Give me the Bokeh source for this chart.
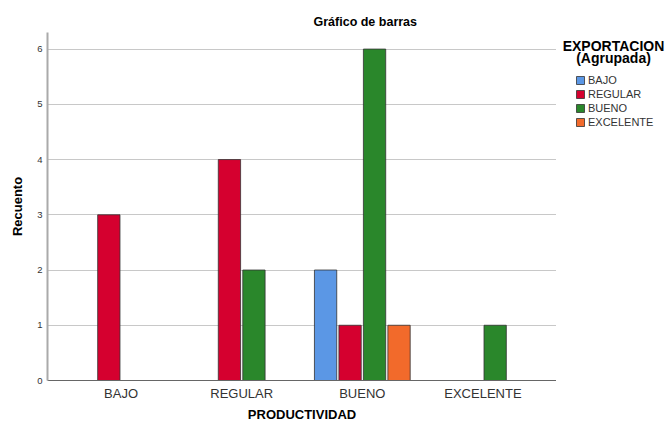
from bokeh.plotting import figure
from bokeh.layouts import row
from bokeh.models import (ColumnDataSource, FactorRange, Legend, LegendItem, Label,
                          SingleIntervalTicker, Range1d)
from bokeh.transform import dodge
from bokeh.embed import file_html
from bokeh.resources import INLINE

categories = ["BAJO", "REGULAR", "BUENO", "EXCELENTE"]
series = ["BAJO", "REGULAR", "BUENO", "EXCELENTE"]
bajo = [0, 0, 2, 0]
regular = [3, 4, 1, 0]
bueno = [0, 2, 6, 1]
excelente = [0, 0, 1, 0]
colors = ["#5B97E5", "#D5002F", "#2A872B", "#F26A2B"]
legend_title = ["EXPORTACION", "(Agrupada)"]

source = ColumnDataSource(dict(cat=categories, BAJO=bajo, REGULAR=regular,
                               BUENO=bueno, EXCELENTE=excelente))

FONT = "Liberation Sans"
H = 424
TOP = 32
BOTTOM = 43

p = figure(x_range=FactorRange(factors=categories, range_padding=0.055),
           y_range=(0, 6.3), width=556, height=H,
           output_backend="svg", toolbar_location=None,
           min_border_left=47, min_border_right=0, min_border_top=TOP,
           min_border_bottom=BOTTOM)
p.outline_line_color = None

offsets = [-0.3045, -0.1015, 0.1015, 0.3045]
for s, c, off in zip(series, colors, offsets):
    p.vbar(x=dodge("cat", off, range=p.x_range), top=s, width=0.185,
           source=source, fill_color=c, line_color="#333333", line_width=1,
           line_alpha=0.8)

p.xgrid.grid_line_color = None
p.ygrid.grid_line_color = "#C8C8C8"
p.ygrid.grid_line_width = 1

p.yaxis.ticker = SingleIntervalTicker(interval=1)
p.yaxis.axis_line_color = "#AAAAAA"
p.yaxis.axis_line_width = 2
p.yaxis.major_tick_line_color = None
p.yaxis.minor_tick_line_color = None
p.yaxis.major_tick_out = 0
p.yaxis.minor_tick_out = 0
p.yaxis.major_label_text_font = FONT
p.yaxis.major_label_text_font_size = "9.5px"
p.yaxis.major_label_text_color = "#333333"
p.yaxis.major_label_standoff = 5
p.yaxis.axis_label = "Recuento"
p.yaxis.axis_label_text_font = FONT
p.yaxis.axis_label_text_font_size = "13px"
p.yaxis.axis_label_text_font_style = "bold"
p.yaxis.axis_label_text_color = "#000000"
p.yaxis.axis_label_standoff = 9

p.xaxis.axis_line_color = "#666666"
p.xaxis.axis_line_width = 1
p.xaxis.major_tick_line_color = None
p.xaxis.minor_tick_line_color = None
p.xaxis.major_tick_out = 0
p.xaxis.minor_tick_out = 0
p.xaxis.major_label_text_font = FONT
p.xaxis.major_label_text_font_size = "13px"
p.xaxis.major_label_text_color = "#333333"
p.xaxis.major_label_standoff = 5
p.xaxis.axis_label = "PRODUCTIVIDAD"
p.xaxis.axis_label_text_font = FONT
p.xaxis.axis_label_text_font_size = "13px"
p.xaxis.axis_label_text_font_style = "bold"
p.xaxis.axis_label_text_color = "#000000"
p.xaxis.axis_label_standoff = 3

p.title.text = "Gráfico de barras"
p.title.text_font = FONT
p.title.text_font_size = "12.5px"
p.title.text_font_style = "bold"
p.title.align = "left"
p.title.offset = 266
p.title.standoff = 8
p.title.text_color = "#000000"

# Legend panel: a second figure whose frame lines up with the chart's frame
q = figure(width=112, height=H, x_range=FactorRange(factors=categories),
           y_range=Range1d(0, 10), title=None, x_axis_type=None, y_axis_type=None,
           output_backend="svg", toolbar_location=None,
           min_border_left=0, min_border_right=0, min_border_top=TOP,
           min_border_bottom=BOTTOM)
q.grid.visible = False
q.outline_line_color = None
q.background_fill_alpha = 0

items = []
for s, c in zip(series, colors):
    r = q.vbar(x="cat", top=s, width=0.5, source=source, fill_color=c,
               line_color="#333333", line_alpha=0.8, visible=False)
    items.append(LegendItem(label=s, renderers=[r]))

frame_h = H - TOP - BOTTOM
legend = Legend(items=items, location=(19, frame_h - 43.3 - 54), orientation="vertical",
                label_text_font=FONT, label_text_font_size="11px",
                label_text_color="#333333", glyph_width=10, glyph_height=10,
                label_standoff=3, spacing=2, padding=0, margin=0,
                border_line_color=None, background_fill_alpha=0,
                label_height=10)
q.add_layout(legend, "center")

for txt, yy in zip(legend_title, [frame_h - 14.7, frame_h - 26.3]):
    q.add_layout(Label(x=57, y=yy, x_units="screen", y_units="screen", text=txt,
                       text_font=FONT, text_font_size="14px", text_font_style="bold",
                       text_align="center", text_baseline="middle", text_color="#000000"))

layout = row(p, q, spacing=0)
open("out.html", "w").write(file_html(layout, INLINE))
